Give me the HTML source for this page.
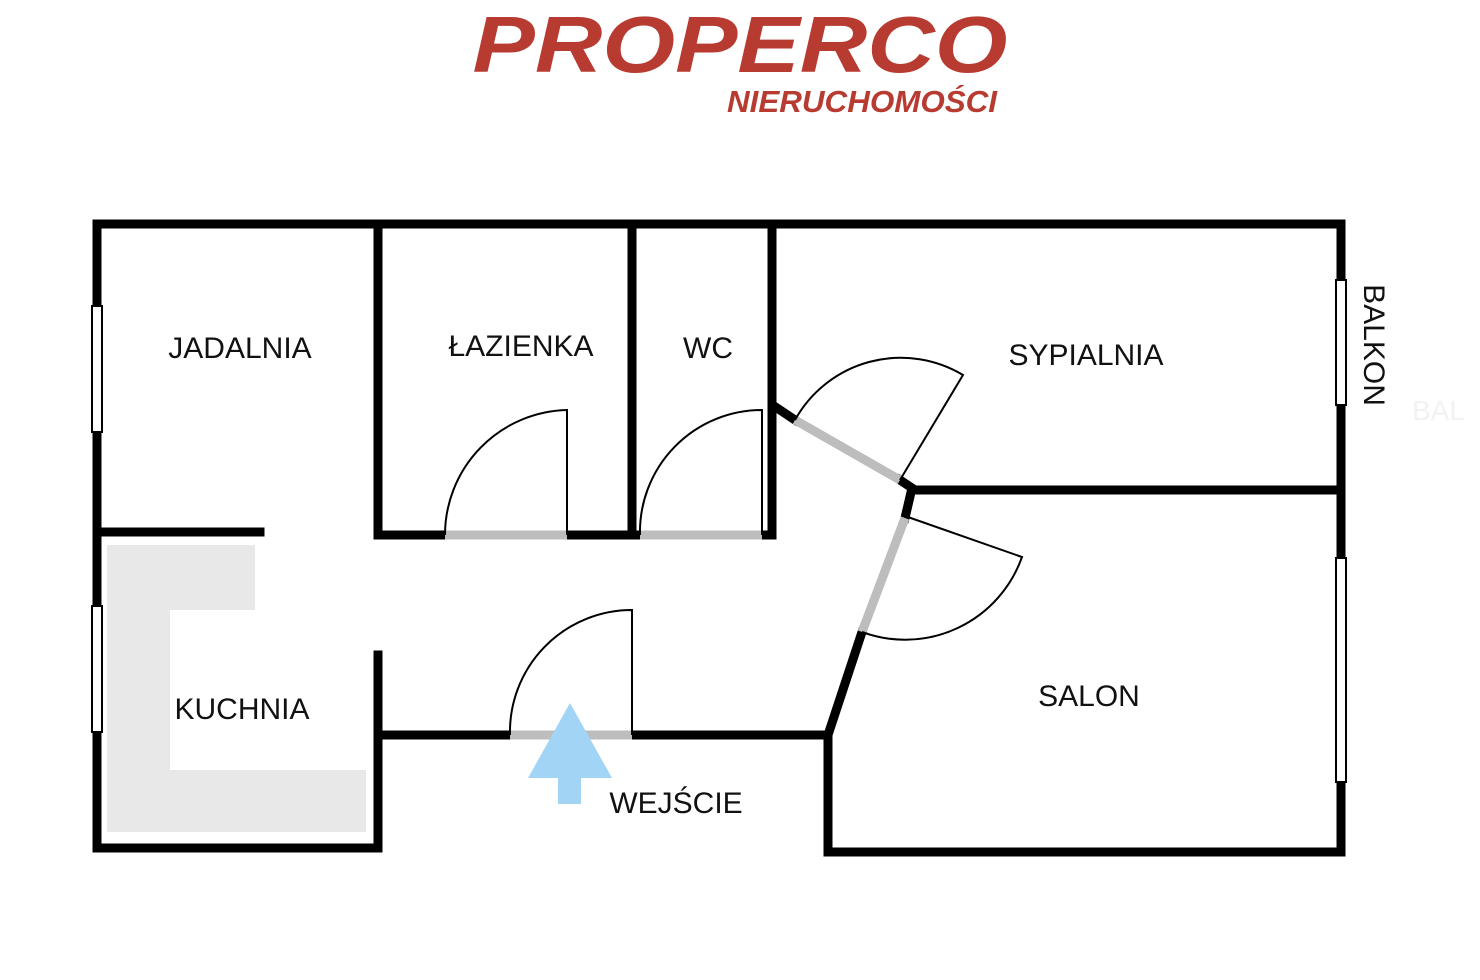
<!DOCTYPE html>
<html><head><meta charset="utf-8"><style>
html,body{margin:0;padding:0;background:#fff;}
svg{display:block;}
text{font-family:"Liberation Sans",sans-serif;}
</style></head><body>
<svg width="1480" height="980" viewBox="0 0 1480 980" xmlns="http://www.w3.org/2000/svg">
<text x="740" y="72" text-anchor="middle" font-size="80" font-weight="bold" font-style="italic" fill="#b83b32" textLength="535" lengthAdjust="spacingAndGlyphs">PROPERCO</text>
<text x="862" y="112" text-anchor="middle" font-size="31" font-weight="bold" font-style="italic" fill="#b83b32" textLength="270" lengthAdjust="spacingAndGlyphs">NIERUCHOMOŚCI</text>

<g fill="#e8e8e8">
<rect x="107" y="545" width="148" height="65"/>
<rect x="107" y="545" width="63" height="287"/>
<rect x="107" y="770" width="259" height="62"/>
</g>

<g stroke="#000" stroke-width="9" stroke-linecap="square" fill="none">
<polyline points="97,848 97,224 1341,224 1341,852 828,852 828,735 862,632"/>
<polyline points="378,655 378,848 97,848"/>
<line x1="378" y1="735" x2="510" y2="735"/>
<line x1="632" y1="735" x2="828" y2="735"/>
<line x1="97" y1="532" x2="260" y2="532"/>
<polyline points="378,224 378,535 445,535"/>
<line x1="567" y1="535" x2="640" y2="535"/>
<line x1="632" y1="224" x2="632" y2="535"/>
<line x1="772" y1="224" x2="772" y2="535"/>
<line x1="762" y1="535" x2="772" y2="535"/>
<polyline points="777,408 795,420"/>
<polyline points="900,480 912,488 905,518"/>
<line x1="912" y1="490" x2="1341" y2="490"/>
</g>
<g stroke="#bdbdbd" stroke-width="9" fill="none">
<line x1="445" y1="535" x2="567" y2="535"/>
<line x1="640" y1="535" x2="762" y2="535"/>
<line x1="510" y1="735" x2="632" y2="735"/>
<line x1="795" y1="420" x2="900" y2="480"/>
<line x1="905" y1="518" x2="862" y2="632"/>
</g>
<g stroke="#000" stroke-width="2" fill="none">
<path d="M567,535 L567,410 A125,125 0 0 0 445,535"/>
<path d="M762,535 L762,410 A122,122 0 0 0 640,535"/>
<path d="M632,735 L632,610 A122,122 0 0 0 510,735"/>
<path d="M900,480 L963,375 A121,121 0 0 0 795,420"/>
<path d="M905,516 L1022,557 A124,124 0 0 1 862,632"/>
</g>
<g fill="#fff" stroke="#000" stroke-width="2">
<rect x="92" y="306" width="10" height="126"/>
<rect x="92" y="606" width="10" height="126"/>
<rect x="1336" y="280" width="10" height="125"/>
<rect x="1336" y="558" width="10" height="224"/>
</g>

<g fill="#a2d4f5">
<polygon points="570,703 612,778 528,778"/>
<rect x="558" y="776" width="23" height="28"/>
</g>

<g font-size="30" fill="#111">
<text x="240" y="358" text-anchor="middle">JADALNIA</text>
<text x="521" y="356" text-anchor="middle">ŁAZIENKA</text>
<text x="708" y="358" text-anchor="middle">WC</text>
<text x="1086" y="365" text-anchor="middle">SYPIALNIA</text>
<text x="242" y="719" text-anchor="middle">KUCHNIA</text>
<text x="1089" y="706" text-anchor="middle">SALON</text>
<text x="676" y="813" text-anchor="middle">WEJŚCIE</text>
<text transform="translate(1364,345) rotate(90)" text-anchor="middle">BALKON</text>
<text x="1412" y="420" font-size="28" fill="#f2f2f2">BAL</text>
</g>
</svg>
</body></html>
